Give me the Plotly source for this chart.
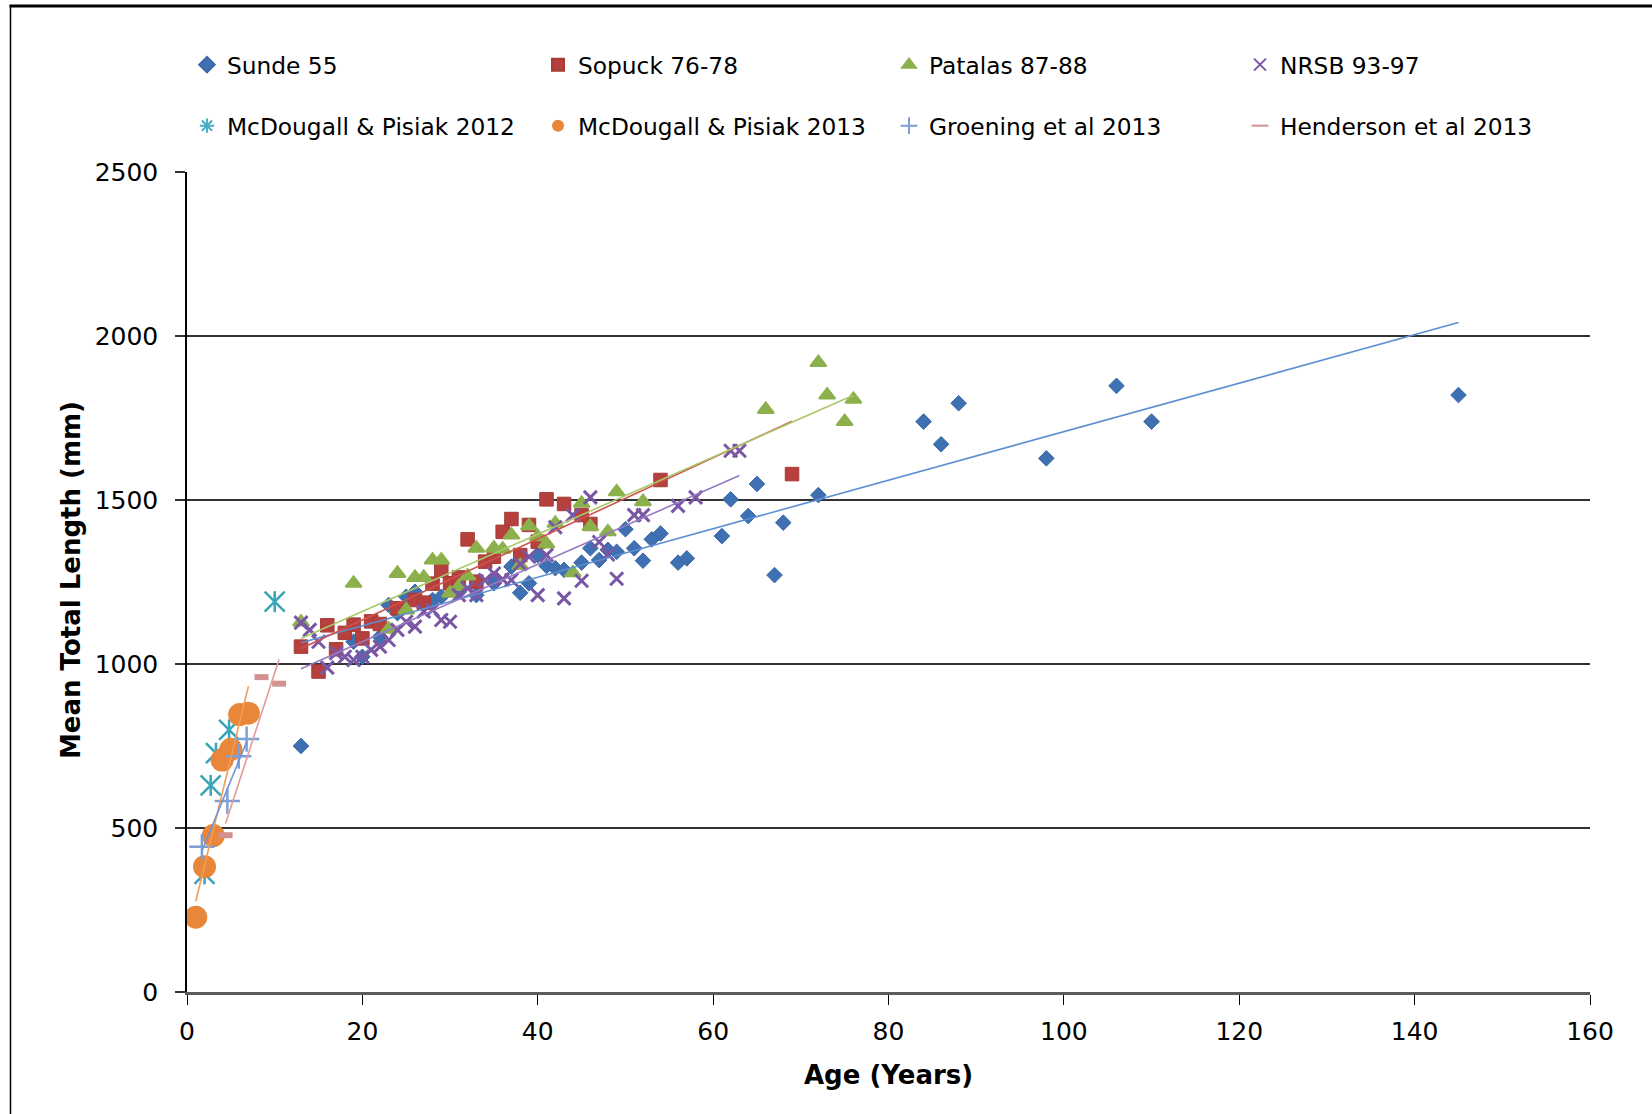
import numpy as np
import plotly.graph_objects as go

# ---------------- data: age (years) vs mean total length (mm) ----------------
sunde_age = [13, 19, 20, 22, 23, 24, 25, 26, 27, 28, 29, 31, 33, 35, 37, 38, 39, 40,
             41, 42, 43, 45, 46, 47, 48, 49, 50, 51, 52, 53, 54, 56, 57, 61, 62, 64,
             65, 67, 68, 72, 84, 86, 88, 98, 106, 110, 145]
sunde_len = [750, 1068, 1022, 1083, 1180, 1155, 1205, 1220, 1180, 1195, 1205, 1220,
             1210, 1246, 1297, 1217, 1246, 1332, 1299, 1292, 1287, 1309, 1353, 1317,
             1348, 1342, 1411, 1353, 1315, 1380, 1398, 1309, 1322, 1390, 1502, 1451,
             1549, 1271, 1431, 1515, 1739, 1670, 1795, 1627, 1848, 1739, 1820]

sopuck_age = [13, 15, 16, 17, 18, 19, 20, 21, 22, 24, 26, 27, 28, 29, 30, 31, 32, 33,
              34, 35, 36, 37, 38, 39, 40, 41, 43, 45, 46, 54, 69]
sopuck_len = [1053, 977, 1118, 1045, 1095, 1120, 1078, 1130, 1122, 1170, 1195, 1187,
              1245, 1285, 1246, 1264, 1380, 1251, 1312, 1327, 1403, 1442, 1332, 1424,
              1373, 1502, 1488, 1454, 1427, 1561, 1579]

patalas_age = [13, 19, 23, 24, 25, 26, 27, 28, 29, 30, 31, 32, 33, 35, 36, 37, 38, 39,
               40, 41, 42, 44, 45, 46, 48, 49, 52, 66, 72, 73, 75, 76]
patalas_len = [1128, 1246, 1106, 1276, 1165, 1264, 1264, 1317, 1317, 1216, 1236, 1268,
               1353, 1353, 1350, 1393, 1300, 1421, 1388, 1366, 1429, 1278, 1490, 1419,
               1403, 1525, 1495, 1776, 1919, 1820, 1739, 1807]

nrsb_age = [13, 14, 15, 16, 17, 18, 19, 20, 21, 22, 23, 24, 25, 26, 27, 28, 29, 30,
            31, 32, 33, 34, 35, 36, 37, 38, 39, 40, 41, 42, 43, 44, 45, 46, 47, 48,
            49, 51, 52, 56, 58, 62, 63]
nrsb_len = [1126, 1104, 1068, 989, 1033, 1022, 1012, 1022, 1043, 1053, 1073, 1104,
            1129, 1114, 1160, 1165, 1134, 1129, 1210, 1231, 1210, 1256, 1276, 1258,
            1256, 1305, 1327, 1210, 1332, 1417, 1200, 1454, 1254, 1508, 1372, 1334,
            1260, 1454, 1454, 1482, 1508, 1650, 1650]

mcd12_age = [2, 2.7, 3.3, 4.8, 10]
mcd12_len = [360, 630, 728, 799, 1190]

mcd13_age = [1, 2, 3, 4, 5, 6, 7]
mcd13_len = [228, 382, 477, 707, 740, 846, 850]

groen_age = [1.7, 4.6, 5.9, 6.8]
groen_len = [443, 582, 719, 771]

hend_age = [4.4, 8.5, 10.5]
hend_len = [478, 960, 940]

# ---------------- page geometry ----------------
W, H = 1652, 1114
ML, MR, MT, MB = 187, 62, 172, 122
PW, PH = W - ML - MR, H - MT - MB


def paper_x(px):
    return (px - ML) / PW


def paper_y(py):
    return (H - MB - py) / PH


FONT = "DejaVu Sans"
TEAL = "#38A4B8"

fig = go.Figure()


def add_points(name, xs, ys, marker, legend):
    fig.add_trace(go.Scatter(x=xs, y=ys, mode="markers", name=name,
                             marker=marker, legend=legend, hoverinfo="x+y+name"))


def add_trend(xs, ys, color):
    # least-squares linear trend spanning the series' age range
    k, b = np.polyfit(xs, ys, 1)
    xr = np.array([min(xs), max(xs)], dtype=float)
    fig.add_trace(go.Scatter(x=xr, y=k * xr + b, mode="lines", showlegend=False,
                             line=dict(color=color, width=1.6), hoverinfo="skip"))


add_points("Sunde 55", sunde_age, sunde_len,
           dict(symbol="diamond", size=12, color="#3F70B1",
                line=dict(width=1, color="#3A68A6")), "legend")
add_points("Sopuck 76-78", sopuck_age, sopuck_len,
           dict(symbol="square", size=13.5, color="#B5403D",
                line=dict(width=1, color="#A83A37")), "legend")
add_points("Patalas 87-88", patalas_age, patalas_len,
           dict(symbol="triangle-up", size=14, color="#8CB04B",
                line=dict(width=2, color="#8CB04B")), "legend")
add_points("NRSB 93-97", nrsb_age, nrsb_len,
           dict(symbol="x-thin-open", size=13, color="#7957A5",
                line=dict(width=3, color="#7957A5")), "legend")

# star marker: diagonal cross plus a vertical stroke
fig.add_trace(go.Scatter(x=mcd12_age, y=mcd12_len, mode="markers", showlegend=False,
                         marker=dict(symbol="x-thin-open", size=20, color=TEAL,
                                     line=dict(width=2.5, color=TEAL)),
                         hoverinfo="x+y"))
fig.add_trace(go.Scatter(x=mcd12_age, y=mcd12_len, mode="markers", showlegend=False,
                         marker=dict(symbol="line-ns-open", size=15, color=TEAL,
                                     line=dict(width=2.5, color=TEAL)),
                         hoverinfo="skip"))
fig.add_trace(go.Scatter(x=[None], y=[None], mode="markers", name="McDougall & Pisiak 2012",
                         marker=dict(symbol="asterisk-open", size=12, color="#4BACC6",
                                     line=dict(width=1.5, color="#4BACC6")),
                         legend="legend2"))

add_points("McDougall & Pisiak 2013", mcd13_age, mcd13_len,
           dict(symbol="circle", size=23, color="#E8873A"), "legend2")
add_points("Groening et al 2013", groen_age, groen_len,
           dict(symbol="cross-thin-open", size=18, color="#7E9ED6",
                line=dict(width=2.5, color="#7E9ED6")), "legend2")
add_points("Henderson et al 2013", hend_age, hend_len,
           dict(symbol="line-ew-open", size=10, color="#D3918F",
                line=dict(width=6, color="#D3918F")), "legend2")

# linear trend lines
add_trend(sunde_age, sunde_len, "#5C8FD2")
add_trend(sopuck_age, sopuck_len, "#D0524E")
add_trend(patalas_age, patalas_len, "#A8C86A")
add_trend(nrsb_age, nrsb_len, "#9679C2")
add_trend(mcd13_age, mcd13_len, "#F39C57")
add_trend(groen_age, groen_len, "#6F94D6")
add_trend(hend_age, hend_len, "#E09C9A")

legend_common = dict(orientation="h", xanchor="left", yanchor="middle",
                     x=0.0, entrywidth=306, entrywidthmode="pixels",
                     itemsizing="constant", bgcolor="rgba(0,0,0,0)",
                     font=dict(family=FONT, size=23.3, color="#000000"))

fig.update_layout(
    width=W, height=H,
    margin=dict(l=ML, r=MR, t=MT, b=MB, pad=0),
    paper_bgcolor="white", plot_bgcolor="white",
    font=dict(family=FONT, color="#000000"),
    legend=dict(y=paper_y(65), **legend_common),
    legend2=dict(y=paper_y(126), **legend_common),
    xaxis=dict(range=[0, 160], dtick=20, showgrid=False, zeroline=False,
               showline=True, linecolor="#5a5a5a", linewidth=2.5,
               ticks="outside", ticklen=10, tickwidth=1, tickcolor="#000000",
               tickfont=dict(family=FONT, size=25), ticklabelstandoff=5),
    yaxis=dict(range=[0, 2500], dtick=500, showgrid=True, gridcolor="#333333",
               gridwidth=1.6, zeroline=False, showline=True, linecolor="#000000",
               linewidth=1.5, ticks="outside", ticklen=10, tickwidth=1.5,
               tickcolor="#333333", tickfont=dict(family=FONT, size=25),
               ticklabelstandoff=12),
    annotations=[
        dict(text="<b>Age (Years)</b>", xref="paper", yref="paper",
             x=0.5, y=paper_y(1075), xanchor="center", yanchor="middle",
             showarrow=False, font=dict(family=FONT, size=26)),
        dict(text="<b>Mean Total Length (mm)</b>", xref="paper", yref="paper",
             x=paper_x(71), y=paper_y(580), xanchor="center", yanchor="middle",
             textangle=-90, showarrow=False, font=dict(family=FONT, size=26)),
    ],
    shapes=[
        dict(type="line", xref="paper", yref="paper", layer="above",
             x0=paper_x(9.5), x1=paper_x(W + 10), y0=paper_y(6), y1=paper_y(6),
             line=dict(color="#000000", width=3)),
        dict(type="line", xref="paper", yref="paper", layer="above",
             x0=paper_x(10.5), x1=paper_x(10.5), y0=paper_y(5), y1=paper_y(H + 10),
             line=dict(color="#000000", width=1.5)),
    ],
)

fig.write_html("out.html")
